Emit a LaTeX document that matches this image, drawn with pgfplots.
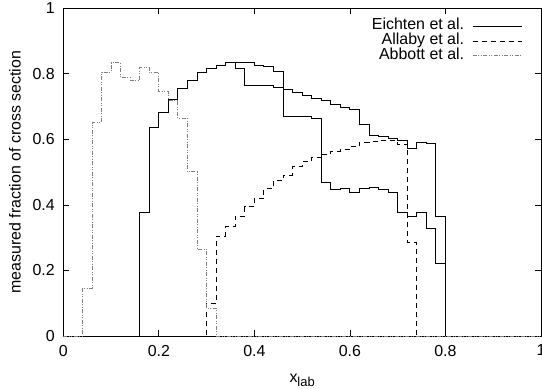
\documentclass[border=0pt]{standalone}
\usepackage{fontspec}
\setmainfont{Liberation Sans}
\usepackage{pgfplots}
\pgfplotsset{compat=1.18}

\pgfplotstableread{
x y
0.00 0
0.16 0.378
0.18 0.636
0.20 0.681
0.22 0.722
0.24 0.755
0.26 0.781
0.28 0.803
0.30 0.817
0.32 0.827
0.34 0.834
0.36 0.835
0.38 0.835
0.40 0.827
0.42 0.822
0.44 0.808
0.46 0.669
0.48 0.669
0.50 0.669
0.52 0.664
0.54 0.468
0.56 0.448
0.58 0.451
0.60 0.437
0.62 0.451
0.64 0.453
0.66 0.448
0.68 0.437
0.70 0.377
0.72 0.364
0.74 0.377
0.76 0.329
0.78 0.220
0.80 0
1.00 0
}\eichtenA

\pgfplotstableread{
x y
0.00 0
0.16 0.378
0.18 0.636
0.20 0.681
0.22 0.722
0.24 0.755
0.26 0.781
0.28 0.803
0.30 0.817
0.32 0.827
0.34 0.834
0.36 0.815
0.38 0.766
0.40 0.766
0.42 0.764
0.44 0.759
0.46 0.751
0.48 0.743
0.50 0.735
0.52 0.726
0.54 0.719
0.56 0.708
0.58 0.698
0.60 0.690
0.62 0.646
0.64 0.611
0.66 0.608
0.68 0.603
0.70 0.598
0.72 0.573
0.74 0.591
0.76 0.588
0.78 0.364
0.80 0
1.00 0
}\eichtenB

\pgfplotstableread{
x y
0.00 0
0.30 0.100
0.32 0.305
0.34 0.334
0.36 0.366
0.38 0.395
0.40 0.420
0.42 0.451
0.44 0.474
0.46 0.491
0.48 0.517
0.50 0.532
0.52 0.545
0.54 0.555
0.56 0.564
0.58 0.570
0.60 0.578
0.62 0.592
0.64 0.594
0.66 0.596
0.68 0.596
0.70 0.585
0.72 0.285
0.74 0
1.00 0
}\allaby

\pgfplotstableread{
x y
0.00 0
0.04 0.145
0.06 0.651
0.08 0.805
0.10 0.834
0.12 0.789
0.14 0.781
0.16 0.819
0.18 0.803
0.20 0.746
0.22 0.720
0.24 0.664
0.26 0.501
0.28 0.265
0.30 0.085
0.32 0
1.00 0
}\abbott

\begin{document}
\begin{tikzpicture}
\begin{axis}[
  scale only axis,
  width=477.7bp, height=327.7bp,
  xmin=0, xmax=1, ymin=0, ymax=1,
  xtick={0,0.2,0.4,0.6,0.8,1},
  ytick={0,0.2,0.4,0.6,0.8,1},
  minor tick num=0,
  tick align=inside,
  major tick length=6bp,
  tick style={black, line width=0.7bp},
  axis line style={line width=0.8bp},
  font=\fontsize{16}{19}\selectfont,
  tick label style={font=\fontsize{16}{19}\selectfont},
  xticklabel style={yshift=-5.5bp},
  yticklabel style={xshift=-5bp},
  /pgf/number format/assume math mode=true,
  xlabel={x\raisebox{-4bp}{\fontsize{13}{15}\selectfont lab}},
  ylabel={measured fraction of cross section},
  xlabel style={at={(axis description cs:0.5,0)}, anchor=base, yshift=-46bp},
  ylabel style={at={(axis description cs:-0.0892,0.5)}, anchor=base, rotate=0},
  legend plot pos=right,
  legend cell align=right,
  legend image code/.code={\draw[#1] (0bp,0bp) -- (49bp,0bp);},
  legend style={draw=none, fill=none, at={(axis description cs:1,1)}, anchor=north east,
    xshift=-19bp, yshift=-10.7bp, inner sep=0pt, outer sep=0pt, row sep=0pt, column sep=8bp,
    nodes={inner sep=0pt, text height=11bp, text depth=3.7bp},
    font=\fontsize{16}{19}\selectfont},
]
\addplot[const plot mark left, black, line width=0.9bp] table {\eichtenA};
\addlegendentry{Eichten et al.}
\addplot[const plot mark left, black, line width=0.9bp, forget plot] table {\eichtenB};
\addplot[const plot mark left, black, line width=0.9bp, dash pattern=on 5bp off 4bp] table {\allaby};
\addlegendentry{Allaby et al.}
\addplot[const plot mark left, black!50, line width=0.9bp, dash pattern=on 4bp off 1.5bp on 1bp off 1.5bp on 1bp off 1.5bp] table {\abbott};
\addlegendentry{Abbott et al.}
\end{axis}
\pgfresetboundingbox
\useasboundingbox ([xshift=-63.3bp,yshift=-53bp]current axis.south west) rectangle ([xshift=1bp,yshift=8.3bp]current axis.north east);
\end{tikzpicture}
\end{document}
